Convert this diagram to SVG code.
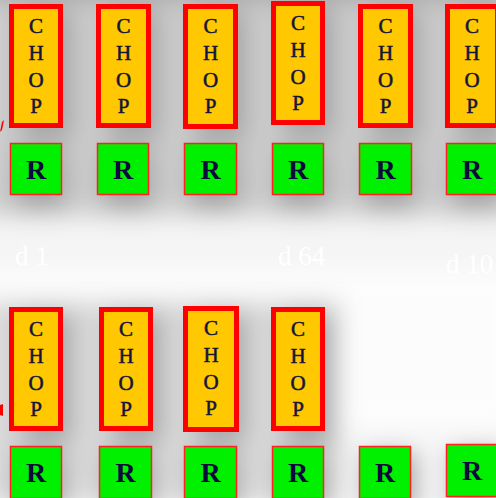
<svg xmlns="http://www.w3.org/2000/svg" width="496" height="498" viewBox="0 0 496 498">
  <style>
    .chop rect { fill: #ffc800; stroke: #ff0000; stroke-width: 5; }
    .chop text { font-family: "Liberation Serif", "Times New Roman", serif; font-size: 21px; fill: #14143c; stroke: #14143c; stroke-width: 0.5; text-anchor: middle; }
    .r rect { fill: #00f000; stroke: #ff2020; stroke-width: 1.5; }
    .r text { font-family: "Liberation Serif", "Times New Roman", serif; font-size: 28px; font-weight: bold; fill: #0a0a3c; text-anchor: middle; }
    .lbl { font-family: "Liberation Serif", "Times New Roman", serif; font-size: 27px; fill: #ffffff; }
    .shade { fill: #8a8a8a; }
  </style>
  <defs>
    <filter id="soft" x="-20%" y="-20%" width="140%" height="140%">
      <feGaussianBlur stdDeviation="12"/>
    </filter>
  </defs>

  <!-- page -->
  <rect width="496" height="498" fill="#f5f5f5"/>

  <!-- soft shadows behind the blocks -->
  <g id="shadows" filter="url(#soft)" opacity="0.75">
    <rect x="-20" y="-40" width="540" height="60" class="shade"/>
    <rect x="-20" y="0" width="540" height="215" fill="#bdbdbd"/>
    <rect x="-20" y="270" width="540" height="40" fill="#ffffff"/>
    <rect x="22" y="10" width="50" height="130" class="shade"/>
    <rect x="109" y="10" width="50" height="130" class="shade"/>
    <rect x="196" y="10" width="50" height="130" class="shade"/>
    <rect x="284" y="7" width="50" height="130" class="shade"/>
    <rect x="371" y="10" width="50" height="130" class="shade"/>
    <rect x="458" y="10" width="50" height="130" class="shade"/>
    <rect x="16" y="150" width="50" height="60" class="shade"/>
    <rect x="103" y="150" width="50" height="60" class="shade"/>
    <rect x="190" y="150" width="50" height="60" class="shade"/>
    <rect x="278" y="150" width="50" height="60" class="shade"/>
    <rect x="365" y="150" width="50" height="60" class="shade"/>
    <rect x="452" y="150" width="50" height="60" class="shade"/>
    <rect x="-20" y="300" width="360" height="200" fill="#cfcfcf"/>
    <rect x="340" y="300" width="180" height="130" fill="#ffffff"/>
    <rect x="22" y="313" width="50" height="130" class="shade"/>
    <rect x="112" y="313" width="50" height="130" class="shade"/>
    <rect x="196" y="313" width="50" height="130" class="shade"/>
    <rect x="284" y="313" width="50" height="130" class="shade"/>
    <rect x="16" y="452" width="50" height="58" class="shade"/>
    <rect x="105" y="452" width="50" height="58" class="shade"/>
    <rect x="190" y="452" width="50" height="58" class="shade"/>
    <rect x="278" y="452" width="50" height="58" class="shade"/>
    <rect x="365" y="452" width="50" height="58" class="shade"/>
    <rect x="452" y="450" width="50" height="58" class="shade"/>
  </g>

  <!-- faint white captions -->
  <text class="lbl" x="15" y="265">d 1</text>
  <text class="lbl" x="278" y="265">d 64</text>
  <text class="lbl" x="446" y="273">d 10</text>

  <!-- top row of CHOP blocks -->
  <g id="chop-t1" class="chop"><rect x="11.5" y="6.5" width="49" height="119"/><text x="36" y="33">C</text><text x="36" y="60">H</text><text x="36" y="87">O</text><text x="36" y="113">P</text></g>
  <g id="chop-t2" class="chop"><rect x="98.5" y="6.5" width="50" height="119"/><text x="123.5" y="33">C</text><text x="123.5" y="60">H</text><text x="123.5" y="87">O</text><text x="123.5" y="113">P</text></g>
  <g id="chop-t3" class="chop"><rect x="185.5" y="6.5" width="50" height="120"/><text x="210.5" y="33">C</text><text x="210.5" y="60">H</text><text x="210.5" y="87">O</text><text x="210.5" y="113">P</text></g>
  <g id="chop-t4" class="chop"><rect x="273.5" y="3.5" width="49" height="119"/><text x="298" y="30">C</text><text x="298" y="57">H</text><text x="298" y="84">O</text><text x="298" y="110">P</text></g>
  <g id="chop-t5" class="chop"><rect x="360.5" y="6.5" width="50" height="119"/><text x="385.5" y="33">C</text><text x="385.5" y="60">H</text><text x="385.5" y="87">O</text><text x="385.5" y="113">P</text></g>
  <g id="chop-t6" class="chop"><rect x="447.5" y="6.5" width="50" height="119"/><text x="472" y="33">C</text><text x="472" y="60">H</text><text x="472" y="87">O</text><text x="472" y="113">P</text></g>

  <!-- top row of R blocks -->
  <g id="r-t1" class="r"><rect x="10.5" y="143.5" width="51" height="51"/><text x="36" y="179">R</text></g>
  <g id="r-t2" class="r"><rect x="97.5" y="143.5" width="51" height="51"/><text x="123" y="179">R</text></g>
  <g id="r-t3" class="r"><rect x="184.5" y="143.5" width="52" height="51"/><text x="210.5" y="179">R</text></g>
  <g id="r-t4" class="r"><rect x="272.5" y="143.5" width="51" height="51"/><text x="298" y="179">R</text></g>
  <g id="r-t5" class="r"><rect x="359.5" y="143.5" width="52" height="51"/><text x="385.5" y="179">R</text></g>
  <g id="r-t6" class="r"><rect x="446.5" y="143.5" width="52" height="51"/><text x="472" y="179">R</text></g>

  <!-- bottom row of CHOP blocks -->
  <g id="chop-b1" class="chop"><rect x="11.5" y="309.5" width="49" height="119"/><text x="36" y="336">C</text><text x="36" y="363">H</text><text x="36" y="390">O</text><text x="36" y="416">P</text></g>
  <g id="chop-b2" class="chop"><rect x="101.5" y="309.5" width="49" height="119"/><text x="126" y="336">C</text><text x="126" y="363">H</text><text x="126" y="390">O</text><text x="126" y="416">P</text></g>
  <g id="chop-b3" class="chop"><rect x="185.5" y="308.5" width="51" height="121"/><text x="211" y="335">C</text><text x="211" y="362">H</text><text x="211" y="389">O</text><text x="211" y="415">P</text></g>
  <g id="chop-b4" class="chop"><rect x="273.5" y="309.5" width="49" height="119"/><text x="298" y="336">C</text><text x="298" y="363">H</text><text x="298" y="390">O</text><text x="298" y="416">P</text></g>

  <!-- bottom row of R blocks -->
  <g id="r-b1" class="r"><rect x="10.5" y="446.5" width="51" height="52"/><text x="36" y="482">R</text></g>
  <g id="r-b2" class="r"><rect x="99.5" y="446.5" width="52" height="52"/><text x="125.5" y="482">R</text></g>
  <g id="r-b3" class="r"><rect x="184.5" y="446.5" width="52" height="52"/><text x="210.5" y="482">R</text></g>
  <g id="r-b4" class="r"><rect x="272.5" y="446.5" width="51" height="52"/><text x="298" y="482">R</text></g>
  <g id="r-b5" class="r"><rect x="359.5" y="446.5" width="51" height="52"/><text x="385" y="482">R</text></g>
  <g id="r-b6" class="r"><rect x="446.5" y="444.5" width="52" height="52"/><text x="472" y="480">R</text></g>

  <!-- connector tips entering from the left edge -->
  <g id="connectors" fill="#ff0000">
    <polygon points="0,132 2,122 4,120 2,130"/>
    <polygon points="0,405 3,404 3,416 0,415"/>
  </g>
</svg>
